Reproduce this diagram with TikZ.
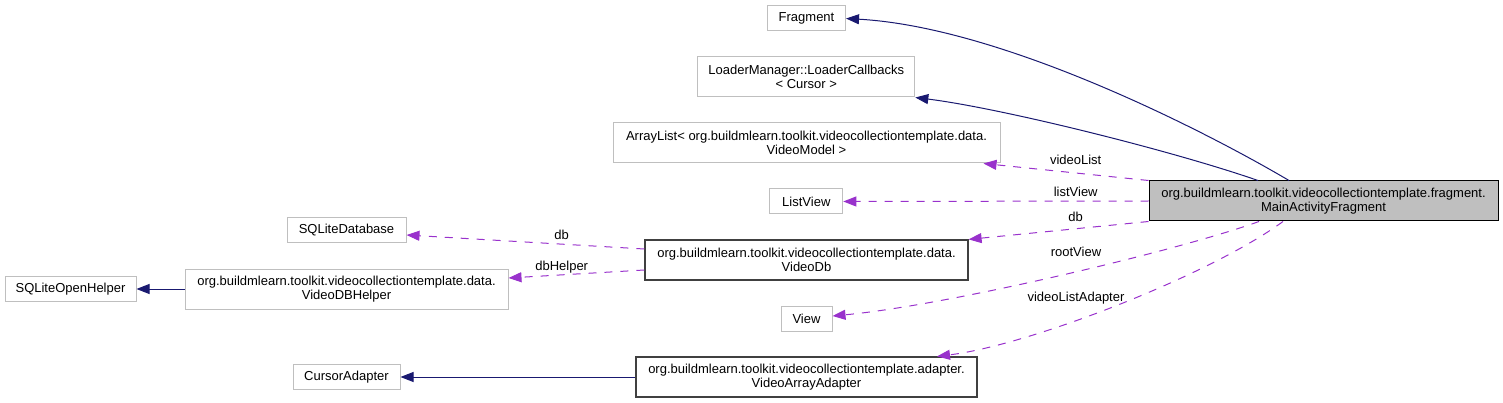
\documentclass[tikz,border=0pt]{standalone}
\usepackage{fontspec}
\setmainfont{Liberation Sans}
\usetikzlibrary{arrows.meta,calc}
\definecolor{edgeblue}{RGB}{25,25,112}
\definecolor{edgeorchid}{RGB}{153,50,204}
\definecolor{boxgrey}{RGB}{191,191,191}
\definecolor{boxdark}{RGB}{64,64,64}

\begin{document}
\begin{tikzpicture}[x=1pt,y=-1pt,font=\fontsize{13}{14.7}\selectfont,
  ext/.style={draw=boxgrey,line width=1pt,fill=white,inner sep=0pt,align=center},
  own/.style={draw=boxdark,line width=1.2pt,fill=white,inner sep=0pt,align=center},
  inherit/.style={draw=edgeblue,line width=1pt,-{Triangle[length=13pt,width=10pt]}},
  member/.style={draw=edgeorchid,line width=1pt,dash pattern=on 8pt off 8pt,-{Triangle[length=13pt,width=10pt]}},
  lbl/.style={inner sep=0pt}]
\useasboundingbox (0,0) rectangle (1503,403);
\node[draw=black,line width=1pt,fill=boxgrey,inner sep=0pt,align=center,minimum width=349pt,minimum height=40pt] (main) at (1323.5,201) {org.buildmlearn.toolkit.videocollectiontemplate.fragment.\\MainActivityFragment};
\node[ext,minimum width=78pt,minimum height=25pt] (frag) at (806.5,18.5) {Fragment};
\node[ext,minimum width=217pt,minimum height=40pt] (loader) at (806.3,77) {LoaderManager::LoaderCallbacks\\< Cursor >};
\node[ext,minimum width=387pt,minimum height=40pt] (alist) at (806.5,143) {ArrayList< org.buildmlearn.toolkit.videocollectiontemplate.data.\\VideoModel >};
\node[ext,minimum width=73pt,minimum height=25pt] (lview) at (806.3,201.5) {ListView};
\node[own,minimum width=323pt,minimum height=40pt] (vdb) at (806.5,260) {org.buildmlearn.toolkit.videocollectiontemplate.data.\\VideoDb};
\node[ext,minimum width=51pt,minimum height=25pt] (view) at (806.5,318.5) {View};
\node[own,minimum width=341pt,minimum height=40pt] (vaa) at (806.5,377) {org.buildmlearn.toolkit.videocollectiontemplate.adapter.\\VideoArrayAdapter};
\node[ext,minimum width=119pt,minimum height=25pt] (sqldb) at (346.5,230.5) {SQLiteDatabase};
\node[ext,minimum width=323pt,minimum height=40pt] (dbhelper) at (346.5,289) {org.buildmlearn.toolkit.videocollectiontemplate.data.\\VideoDBHelper};
\node[ext,minimum width=131pt,minimum height=25pt] (sqlhelper) at (70.5,289) {SQLiteOpenHelper};
\node[ext,minimum width=107pt,minimum height=25pt] (cadapter) at (346.5,377) {CursorAdapter};
% inheritance
\draw[inherit] ($(main.north)+(-34.5,0)$) .. controls (1200,128) and (1000,27) .. (frag.east);
\draw[inherit] ($(main.north)+(-65.5,0)$) .. controls (1170,150) and (1000,108) .. (loader.south east);
\draw[inherit] (dbhelper.west) -- (sqlhelper.east);
\draw[inherit] (vaa.west) -- (cadapter.east);
% members
\draw[member] (main.north west) -- ($(alist.south east)+(-17,0)$);
\draw[member] (main.west) -- (lview.east);
\draw[member] (main.south west) -- (vdb.north east);
\draw[member] ($(main.south)+(-64.5,0)$) .. controls (1180,250) and (950,305) .. ($(view.east)+(0,-2.5)$);
\draw[member] ($(main.south)+(-40.5,0)$) .. controls (1210,275) and (1030,345) .. ($(vaa.north)+(130.5,0)$);
\draw[member] ($(vdb.west)+(0,-11)$) -- ($(sqldb.east)+(0,4.5)$);
\draw[member] ($(vdb.west)+(0,10)$) -- ($(dbhelper.east)+(0,-11)$);
\node[lbl] (lvideolist) at (1075.7,159.7) {videoList};
\node[lbl] (llistview) at (1075.7,192) {listView};
\node[lbl] (ldbmain) at (1075.7,216.7) {db};
\node[lbl] (lrootview) at (1076,252) {rootView};
\node[lbl] (ladapter) at (1076,298) {videoListAdapter};
\node[lbl] (ldbvdb) at (561.7,234.7) {db};
\node[lbl] (ldbhelper) at (561.7,266.7) {dbHelper};
\end{tikzpicture}
\end{document}
